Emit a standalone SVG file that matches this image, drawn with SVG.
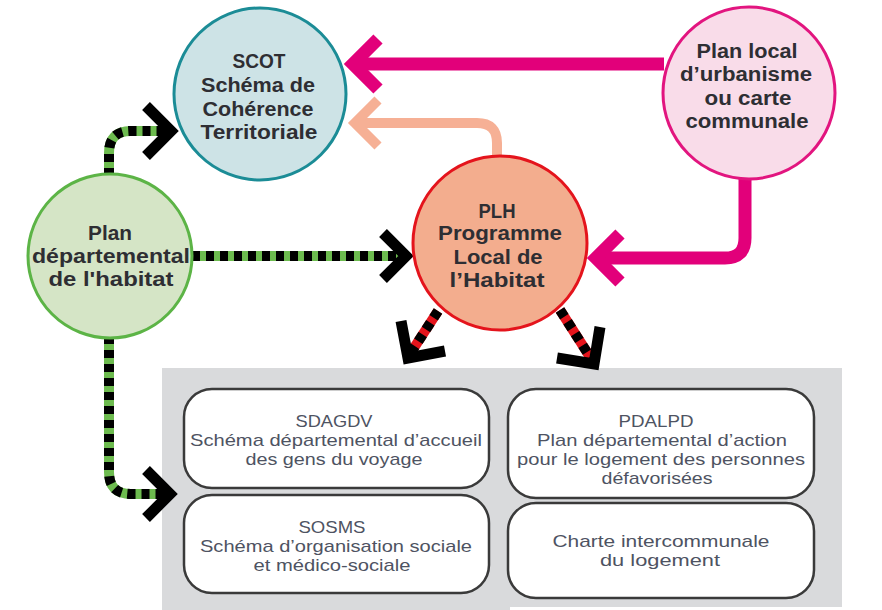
<svg xmlns="http://www.w3.org/2000/svg" width="882" height="610" viewBox="0 0 882 610">
<defs>
<style>
.circ{stroke-width:3}
.ct{font-family:"Liberation Sans","DejaVu Sans",sans-serif;font-weight:bold;font-size:20px;fill:#2e2e33;text-anchor:middle}
.bt{font-family:"Liberation Sans","DejaVu Sans",sans-serif;font-size:17px;fill:#4e5362;text-anchor:middle}
.box{fill:#ffffff;stroke:#3a3a3a;stroke-width:2.5}
.gbase{fill:none;stroke:#6dbb4f;stroke-width:10}
.rbase{fill:none;stroke:#e4141c;stroke-width:10}
.dash{fill:none;stroke:#000;stroke-width:10;stroke-dasharray:8 6}
.chev{fill:none;stroke:#000;stroke-width:11;stroke-linejoin:miter;stroke-linecap:butt}
.mag{fill:none;stroke:#e2007a;stroke-width:13;stroke-linejoin:miter}
.sal{fill:none;stroke:#f6b095;stroke-width:10;stroke-linejoin:miter}
</style>
</defs>
<rect width="882" height="610" fill="#ffffff"/>
<g id="panel">
<path d="M162,368 H842 V607 H510 V610 H162 Z" fill="#d9dadc"/>
</g>
<g id="sdagdv">
<rect class="box" x="184" y="389" width="305" height="99" rx="28"/>
<text class="bt"><tspan x="334" y="427" textLength="77" lengthAdjust="spacingAndGlyphs">SDAGDV</tspan><tspan x="336" y="446" textLength="292" lengthAdjust="spacingAndGlyphs">Schéma départemental d’accueil</tspan><tspan x="334" y="465" textLength="177" lengthAdjust="spacingAndGlyphs">des gens du voyage</tspan></text>
</g>
<g id="sosms">
<rect class="box" x="184" y="495" width="305" height="98" rx="28"/>
<text class="bt"><tspan x="332" y="533" textLength="67" lengthAdjust="spacingAndGlyphs">SOSMS</tspan><tspan x="336" y="552" textLength="272" lengthAdjust="spacingAndGlyphs">Schéma d’organisation sociale</tspan><tspan x="332" y="571" textLength="157" lengthAdjust="spacingAndGlyphs">et médico-sociale</tspan></text>
</g>
<g id="pdalpd">
<rect class="box" x="508" y="389" width="306" height="109" rx="28"/>
<text class="bt"><tspan x="656" y="427" textLength="75" lengthAdjust="spacingAndGlyphs">PDALPD</tspan><tspan x="662" y="446" textLength="250" lengthAdjust="spacingAndGlyphs">Plan départemental d’action</tspan><tspan x="661" y="465" textLength="288" lengthAdjust="spacingAndGlyphs">pour le logement des personnes</tspan><tspan x="657" y="484" textLength="111" lengthAdjust="spacingAndGlyphs">défavorisées</tspan></text>
</g>
<g id="charte">
<rect class="box" x="508" y="503" width="306" height="95" rx="28"/>
<text class="bt"><tspan x="661" y="547" textLength="217" lengthAdjust="spacingAndGlyphs">Charte intercommunale</tspan><tspan x="660" y="566" textLength="120" lengthAdjust="spacingAndGlyphs">du logement</tspan></text>
</g>
<g id="connectors">
<path class="mag" d="M664,64 H356"/>
<polyline class="mag" points="378,39 353,64 378,89"/>
<path class="sal" d="M497,157 V143 Q497,123 477,123 H356"/>
<polyline class="sal" points="378,100 355,123 378,146"/>
<path class="mag" d="M745,178 V238 Q745,258 725,258 H597"/>
<polyline class="mag" points="620,234 596,258 620,282"/>
<path class="gbase" d="M109,176 V153 Q109,131 131,131 H168"/>
<path class="dash" d="M109,176 V153 Q109,131 131,131 H168"/>
<polyline class="chev" points="146,106 171,131 146,156"/>
<path class="gbase" d="M192,256 H402"/>
<path class="dash" d="M192,256 H402"/>
<polyline class="chev" points="383,233 406,256 383,279"/>
<path class="gbase" d="M109,336 V472 Q109,494 131,494 H168"/>
<path class="dash" d="M109,336 V472 Q109,494 131,494 H168"/>
<polyline class="chev" points="146,470 170,494 146,518"/>
<path class="rbase" d="M438,311 L410,354"/>
<path class="dash" d="M438,311 L410,354"/>
<polyline class="chev" points="401,321 408,358 445,351"/>
<path class="rbase" d="M560,310 L592,360"/>
<path class="dash" d="M560,310 L592,360"/>
<polyline class="chev" points="600,327 594,364 557,358"/>
</g>
<g id="scot">
<circle class="circ" cx="260" cy="94" r="86" fill="#cde3e6" stroke="#1b8c96"/>
<text class="ct"><tspan x="259" y="68" textLength="53" lengthAdjust="spacingAndGlyphs">SCOT</tspan><tspan x="258" y="92" textLength="114" lengthAdjust="spacingAndGlyphs">Schéma de</tspan><tspan x="258" y="116" textLength="111" lengthAdjust="spacingAndGlyphs">Cohérence</tspan><tspan x="259" y="139" textLength="117" lengthAdjust="spacingAndGlyphs">Territoriale</tspan></text>
</g>
<g id="pdh">
<circle class="circ" cx="110" cy="256" r="82" fill="#d5e5c6" stroke="#5cb446"/>
<text class="ct"><tspan x="110" y="240" textLength="44" lengthAdjust="spacingAndGlyphs">Plan</tspan><tspan x="111" y="263" textLength="158" lengthAdjust="spacingAndGlyphs">départemental</tspan><tspan x="111" y="286" textLength="125" lengthAdjust="spacingAndGlyphs">de l'habitat</tspan></text>
</g>
<g id="plu">
<circle class="circ" cx="749" cy="93" r="86" fill="#f9dce9" stroke="#e2157f"/>
<text class="ct"><tspan x="747" y="58" textLength="101" lengthAdjust="spacingAndGlyphs">Plan local</tspan><tspan x="746" y="81" textLength="132" lengthAdjust="spacingAndGlyphs">d’urbanisme</tspan><tspan x="748" y="105" textLength="87" lengthAdjust="spacingAndGlyphs">ou carte</tspan><tspan x="747" y="128" textLength="123" lengthAdjust="spacingAndGlyphs">communale</tspan></text>
</g>
<g id="plh">
<circle class="circ" cx="500" cy="243" r="87" fill="#f3ad8e" stroke="#e4141c"/>
<text class="ct"><tspan x="497" y="218" textLength="37" lengthAdjust="spacingAndGlyphs">PLH</tspan><tspan x="500" y="240" textLength="124" lengthAdjust="spacingAndGlyphs">Programme</tspan><tspan x="498" y="264" textLength="89" lengthAdjust="spacingAndGlyphs">Local de</tspan><tspan x="497" y="287" textLength="95" lengthAdjust="spacingAndGlyphs">l’Habitat</tspan></text>
</g>
</svg>
